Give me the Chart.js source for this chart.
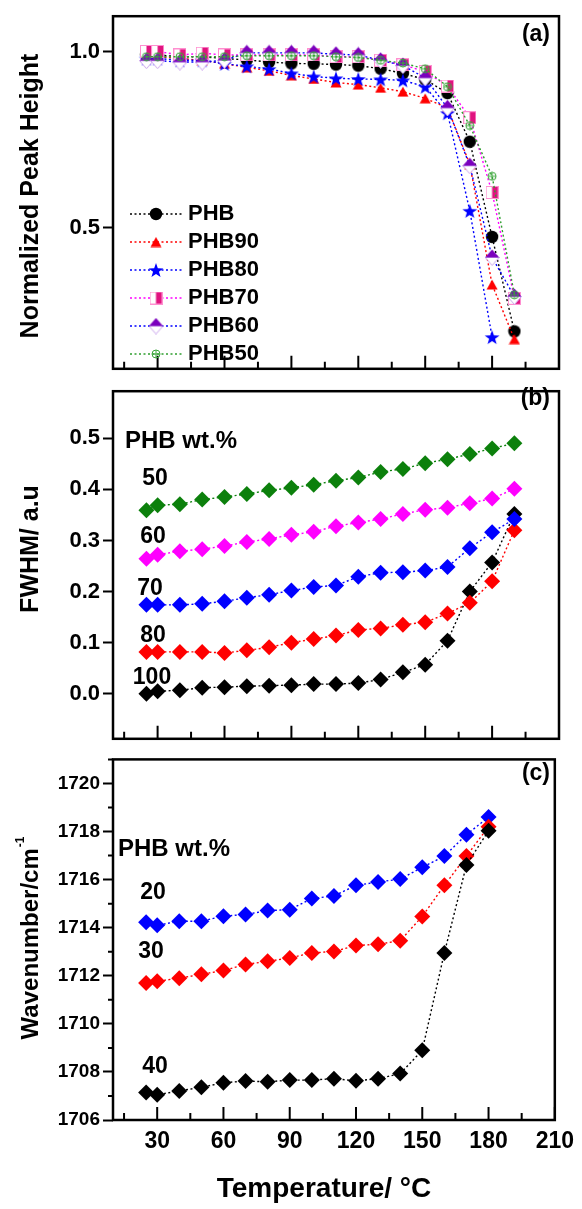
<!DOCTYPE html>
<html lang="en">
<head>
<meta charset="UTF-8">
<title>PHB blends: peak height, FWHM and wavenumber vs temperature</title>
<script src="https://cdn.jsdelivr.net/npm/chart.js"></script>
<style>
  body { margin: 0; background: #fff; }
  #wrap { position: relative; width: 582px; height: 1209px; }
  #wrap canvas { position: absolute; left: 0; }
</style>
</head>
<body>
<div id="wrap">
  <canvas id="chartA" width="582" height="385" style="top:0px"></canvas>
  <canvas id="chartB" width="582" height="380" style="top:375px"></canvas>
  <canvas id="chartC" width="582" height="464" style="top:745px"></canvas>
</div>
<script>
// temperature steps (°C)
const temps  = [25, 30, 40, 50, 60, 70, 80, 90, 100, 110, 120, 130, 140, 150, 160, 170, 180, 190];
const tempsC = [25, 30, 40, 50, 60, 70, 80, 90, 100, 110, 120, 130, 140, 150, 160, 170, 180];

// (a) normalized peak height
const phb   = [0.99, 0.99, 0.985, 0.985, 0.98, 0.976, 0.97, 0.966, 0.965, 0.963, 0.96, 0.951, 0.938, 0.92, 0.882, 0.744, 0.474, 0.206];
const phb90 = [0.985, 0.985, 0.98, 0.975, 0.965, 0.955, 0.945, 0.932, 0.922, 0.912, 0.906, 0.897, 0.886, 0.867, 0.84, 0.68, 0.339, 0.184];
const phb80 = [0.98, 0.98, 0.975, 0.975, 0.965, 0.958, 0.95, 0.938, 0.929, 0.924, 0.922, 0.921, 0.918, 0.9, 0.825, 0.548, 0.19];
const phb70 = [1.0, 1.0, 0.99, 0.995, 0.99, 0.99, 0.99, 0.99, 0.99, 0.985, 0.985, 0.975, 0.962, 0.943, 0.902, 0.812, 0.6, 0.3];
const phb60 = [0.974, 0.974, 0.97, 0.97, 0.975, 0.996, 0.996, 0.996, 0.996, 0.992, 0.99, 0.975, 0.96, 0.925, 0.84, 0.676, 0.416, 0.305];
const phb50 = [0.985, 0.985, 0.985, 0.985, 0.985, 0.988, 0.988, 0.988, 0.988, 0.985, 0.983, 0.975, 0.967, 0.951, 0.9, 0.79, 0.646, 0.31];

// (b) FWHM, by PHB wt.%
const fwhm50  = [0.359, 0.369, 0.371, 0.38, 0.385, 0.391, 0.398, 0.403, 0.409, 0.417, 0.423, 0.434, 0.44, 0.451, 0.459, 0.469, 0.48, 0.49];
const fwhm60  = [0.264, 0.272, 0.279, 0.283, 0.289, 0.297, 0.303, 0.311, 0.317, 0.328, 0.335, 0.342, 0.352, 0.36, 0.364, 0.373, 0.382, 0.401];
const fwhm70  = [0.174, 0.174, 0.174, 0.176, 0.181, 0.188, 0.194, 0.202, 0.209, 0.212, 0.229, 0.237, 0.238, 0.241, 0.248, 0.285, 0.316, 0.342];
const fwhm80  = [0.082, 0.082, 0.082, 0.082, 0.08, 0.085, 0.091, 0.1, 0.107, 0.114, 0.125, 0.128, 0.135, 0.14, 0.157, 0.178, 0.22, 0.32];
const fwhm100 = [0.0, 0.005, 0.007, 0.012, 0.013, 0.015, 0.016, 0.017, 0.019, 0.019, 0.021, 0.028, 0.042, 0.057, 0.104, 0.2, 0.257, 0.352];

// (c) wavenumber, by PHB wt.%
const wn20 = [1714.23, 1714.1, 1714.27, 1714.27, 1714.48, 1714.55, 1714.71, 1714.75, 1715.21, 1715.32, 1715.76, 1715.9, 1716.02, 1716.51, 1716.98, 1717.87, 1718.6];
const wn30 = [1711.7, 1711.77, 1711.9, 1712.06, 1712.22, 1712.47, 1712.6, 1712.74, 1712.95, 1713.01, 1713.26, 1713.31, 1713.46, 1714.47, 1715.76, 1716.98, 1718.2];
const wn40 = [1707.14, 1707.05, 1707.21, 1707.36, 1707.55, 1707.62, 1707.59, 1707.66, 1707.66, 1707.72, 1707.63, 1707.72, 1707.93, 1708.9, 1712.95, 1716.61, 1718.03];

// ticks
const xTicks = [30, 60, 90, 120, 150, 180, 210];
const xMinor = [15, 45, 75, 105, 135, 165, 195];
const yTicksA = [0.5, 1.0];
const yTicksB = [0.0, 0.1, 0.2, 0.3, 0.4, 0.5];
const yTicksC = [1706, 1708, 1710, 1712, 1714, 1716, 1718, 1720];
const yMinorC = [1707, 1709, 1711, 1713, 1715, 1717, 1719, 1721];

const FONT = "'Liberation Sans', Arial, sans-serif";

// little canvases used as point styles
function marker(w, h, paint) {
  const c = document.createElement('canvas');
  c.width = w; c.height = h;
  paint(c.getContext('2d'));
  return c;
}
const mkCircle = marker(14, 14, g => {
  g.fillStyle = '#000'; g.beginPath(); g.arc(7, 7, 6.2, 0, Math.PI * 2); g.fill();
});
const mkTriangle = marker(12, 11, g => {
  g.fillStyle = '#ff0000'; g.beginPath();
  g.moveTo(6, 0.5); g.lineTo(11.5, 10.5); g.lineTo(0.5, 10.5); g.closePath(); g.fill();
});
const mkStar = marker(16, 16, g => {
  g.fillStyle = '#0000ff'; g.beginPath();
  for (let i = 0; i < 10; i++) {
    const r = i % 2 ? 3.1 : 7.8;
    const ang = -Math.PI / 2 + i * Math.PI / 5;
    const px = 8 + r * Math.cos(ang), py = 8.8 + r * Math.sin(ang);
    if (i) g.lineTo(px, py); else g.moveTo(px, py);
  }
  g.closePath(); g.fill();
});
const mkHalfSquare = marker(13, 13, g => {
  g.fillStyle = '#fff'; g.fillRect(1, 1, 11, 11);
  g.fillStyle = '#e0137f'; g.fillRect(6.5, 0.5, 6, 12);
  g.strokeStyle = '#ff8fd0'; g.lineWidth = 1; g.strokeRect(0.5, 0.5, 12, 12);
});
const mkHalfDiamond = marker(15, 17, g => {
  g.fillStyle = '#fff'; g.beginPath();
  g.moveTo(0.5, 8.5); g.lineTo(7.5, 16.5); g.lineTo(14.5, 8.5); g.closePath(); g.fill();
  g.strokeStyle = '#c9a3ec'; g.lineWidth = 1; g.stroke();
  g.fillStyle = '#7b00bd'; g.beginPath();
  g.moveTo(0.5, 8.5); g.lineTo(7.5, 0.5); g.lineTo(14.5, 8.5); g.closePath(); g.fill();
});
const mkCirclePlus = marker(10, 10, g => {
  g.strokeStyle = '#3aa63a'; g.lineWidth = 1;
  g.beginPath(); g.arc(5, 5, 4, 0, Math.PI * 2); g.stroke();
  g.beginPath(); g.moveTo(1, 5); g.lineTo(9, 5); g.moveTo(5, 1); g.lineTo(5, 9); g.stroke();
});

function pts(xs, ys) {
  return xs.map((t, i) => ({ x: t, y: ys[i] })).filter(p => p.y != null);
}

function lineSet(label, xs, ys, color, style, order, radius) {
  return {
    label: label,
    data: pts(xs, ys),
    borderColor: color,
    backgroundColor: color,
    borderWidth: 1.4,
    borderDash: [2, 2.5],
    pointStyle: style,
    pointRadius: radius || 6,
    pointBorderWidth: 0,
    pointBackgroundColor: color,
    order: order,
    tension: 0
  };
}

// frame, inward x ticks, minor y ticks and all free text
function framePlugin(cfg) {
  return {
    id: 'frame',
    afterDraw(chart) {
      const g = chart.ctx, a = chart.chartArea;
      const xs = chart.scales.x, ys = chart.scales.y;
      g.save();
      g.strokeStyle = '#000';
      g.lineWidth = 2;
      g.beginPath();
      xTicks.forEach(v => { const p = xs.getPixelForValue(v); g.moveTo(p, a.bottom); g.lineTo(p, a.bottom - 13); });
      xMinor.forEach(v => { const p = xs.getPixelForValue(v); g.moveTo(p, a.bottom); g.lineTo(p, a.bottom - 7); });
      (cfg.yMinor || []).forEach(v => {
        const p = ys.getPixelForValue(v);
        if (p >= a.top - 1) { g.moveTo(a.left - 5, p); g.lineTo(a.left, p); }
      });
      g.stroke();
      g.lineWidth = 2.5;
      g.strokeRect(a.left, a.top, a.right - a.left, a.bottom - a.top);

      g.fillStyle = '#000';
      g.textBaseline = 'middle';
      (cfg.texts || []).forEach(t => {
        g.font = 'bold ' + t.size + 'px ' + FONT;
        g.textAlign = t.align || 'center';
        g.fillText(t.text, t.x, t.y - cfg.top);
      });

      // rotated y title
      if (cfg.ytitle) {
        const yt = cfg.ytitle;
        g.save();
        g.translate(yt.x, yt.y - cfg.top);
        g.rotate(-Math.PI / 2);
        g.font = 'bold ' + yt.size + 'px ' + FONT;
        const w = g.measureText(yt.text).width;
        let sw = 0;
        if (yt.sup) {
          g.font = 'bold 12px ' + FONT;
          sw = g.measureText(yt.sup).width + 1;
        }
        g.font = 'bold ' + yt.size + 'px ' + FONT;
        g.textAlign = 'left';
        g.fillText(yt.text, -(w + sw) / 2, 0);
        if (yt.sup) {
          g.font = 'bold 12px ' + FONT;
          g.fillText(yt.sup, -(w + sw) / 2 + w + 1, -10);
        }
        g.restore();
      }

      // legend for panel (a)
      if (cfg.legend) {
        chart.data.datasets.forEach((ds, i) => {
          const yy = 214 + i * 28 - cfg.top;
          g.strokeStyle = ds.borderColor;
          g.lineWidth = 1.5;
          g.setLineDash([2, 2.5]);
          g.beginPath(); g.moveTo(130, yy); g.lineTo(182, yy); g.stroke();
          g.setLineDash([]);
          const m = ds.pointStyle;
          g.drawImage(m, 156 - m.width / 2, yy - m.height / 2);
          g.font = 'bold 22px ' + FONT;
          g.textAlign = 'left';
          g.fillStyle = '#000';
          g.fillText(ds.label, 188, yy);
        });
      }
      g.restore();
    }
  };
}

function yAxis(min, max, ticks, fmt, size) {
  return {
    type: 'linear',
    min: min,
    max: max,
    afterBuildTicks: s => { s.ticks = ticks.map(v => ({ value: v })); },
    afterFit: s => { s.width = 113; },
    grid: { drawOnChartArea: false, drawTicks: true, tickLength: 10, tickWidth: 2, tickColor: '#000' },
    border: { display: false },
    ticks: {
      color: '#000',
      autoSkip: false,
      padding: 3,
      font: { family: FONT, size: size, weight: 'bold' },
      callback: v => fmt(v)
    }
  };
}

function xAxis(show) {
  const ax = {
    type: 'linear',
    min: 10,
    max: 210,
    display: show,
    afterBuildTicks: s => { s.ticks = xTicks.map(v => ({ value: v })); },
    grid: { display: false, drawTicks: false },
    border: { display: false },
    ticks: {
      color: '#000',
      autoSkip: false,
      maxRotation: 0,
      padding: 8,
      font: { family: FONT, size: 23, weight: 'bold' },
      callback: v => String(v)
    }
  };
  if (show) ax.afterFit = s => { s.height = 89; };
  return ax;
}

function baseOptions(padTop, padBottom, showX, y) {
  return {
    responsive: false,
    animation: false,
    layout: { padding: { top: padTop, bottom: padBottom, left: 0, right: 23 } },
    plugins: { legend: { display: false }, tooltip: { enabled: false } },
    scales: { x: xAxis(showX), y: y }
  };
}

// (a)
new Chart(document.getElementById('chartA'), {
  type: 'line',
  data: {
    datasets: [
      lineSet('PHB',   temps, phb,   '#000000', mkCircle,      6),
      lineSet('PHB90', temps, phb90, '#ff0000', mkTriangle,    5),
      lineSet('PHB80', temps, phb80, '#0000ff', mkStar,        4),
      lineSet('PHB70', temps, phb70, '#ff00ff', mkHalfSquare,  3),
      lineSet('PHB60', temps, phb60, '#0000ff', mkHalfDiamond, 2),
      lineSet('PHB50', temps, phb50, '#2e9e2e', mkCirclePlus,  1)
    ]
  },
  options: baseOptions(10, 5, false, yAxis(0.1, 1.1, yTicksA, v => v.toFixed(1), 22)),
  plugins: [framePlugin({
    top: 0,
    legend: true,
    texts: [{ text: '(a)', x: 550, y: 35, size: 23, align: 'right' }],
    ytitle: { text: 'Normalized Peak Height', x: 31, y: 196, size: 25 }
  })]
});

// (b)
new Chart(document.getElementById('chartB'), {
  type: 'line',
  data: {
    datasets: [
      lineSet('100', temps, fwhm100, '#000000', 'rectRot', 5, 8),
      lineSet('80',  temps, fwhm80,  '#ff0000', 'rectRot', 4, 8),
      lineSet('70',  temps, fwhm70,  '#0000ff', 'rectRot', 3, 8),
      lineSet('60',  temps, fwhm60,  '#ff00ff', 'rectRot', 2, 8),
      lineSet('50',  temps, fwhm50,  '#0c800c', 'rectRot', 1, 8)
    ]
  },
  options: baseOptions(5, 5, false, yAxis(-0.088, 0.592, yTicksB, v => v.toFixed(1), 22)),
  plugins: [framePlugin({
    top: 375,
    texts: [
      { text: '(b)', x: 550, y: 399, size: 23, align: 'right' },
      { text: 'PHB wt.%', x: 125, y: 441, size: 24, align: 'left' },
      { text: '50', x: 155, y: 479, size: 23 },
      { text: '60', x: 153, y: 537, size: 23 },
      { text: '70', x: 150, y: 589, size: 23 },
      { text: '80', x: 153, y: 636, size: 23 },
      { text: '100', x: 152, y: 678, size: 23 }
    ],
    ytitle: { text: 'FWHM/ a.u', x: 31, y: 549, size: 25 }
  })]
});

// (c)
new Chart(document.getElementById('chartC'), {
  type: 'line',
  data: {
    datasets: [
      lineSet('20', tempsC, wn20, '#0000ff', 'rectRot', 3, 8),
      lineSet('30', tempsC, wn30, '#ff0000', 'rectRot', 2, 8),
      lineSet('40', tempsC, wn40, '#000000', 'rectRot', 1, 8)
    ]
  },
  options: baseOptions(5, 0, true, yAxis(1706, 1721, yTicksC, v => String(v), 19)),
  plugins: [framePlugin({
    top: 745,
    yMinor: yMinorC,
    texts: [
      { text: '(c)', x: 550, y: 774, size: 23, align: 'right' },
      { text: 'PHB wt.%', x: 118, y: 849, size: 24, align: 'left' },
      { text: '20', x: 153, y: 893, size: 23 },
      { text: '30', x: 151, y: 952, size: 23 },
      { text: '40', x: 155, y: 1067, size: 23 },
      { text: 'Temperature/ °C', x: 324, y: 1189, size: 28 }
    ],
    ytitle: { text: 'Wavenumber/cm', sup: '-1', x: 31, y: 938, size: 24 }
  })]
});
</script>
</body>
</html>
